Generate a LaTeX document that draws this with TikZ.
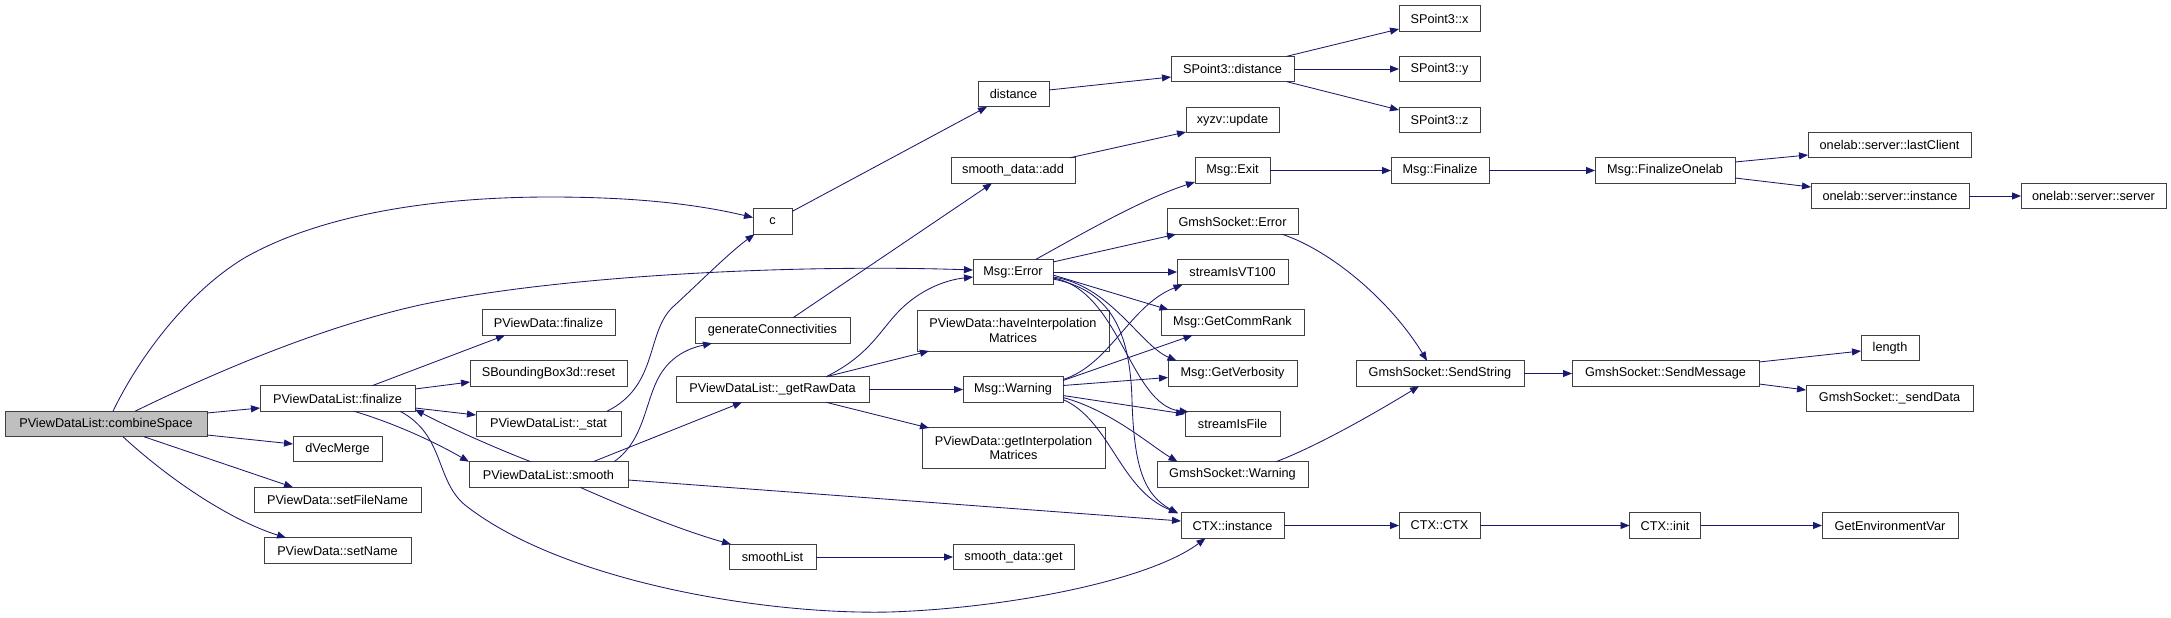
\documentclass[tikz,border=0pt]{standalone}
\usepackage{fontspec}
\setmainfont{Liberation Sans}
\usetikzlibrary{arrows.meta,calc}
\definecolor{edgeblue}{HTML}{191970}
\definecolor{boxline}{HTML}{404040}
\definecolor{rootfill}{HTML}{BFBFBF}
\begin{document}
\begin{tikzpicture}[x=1pt,y=-1pt,
  fn/.style={draw=boxline,line width=0.9pt,fill=white,inner sep=0pt,outer sep=0pt,
    minimum height=25.5pt,align=center,font=\fontsize{12.7}{14.5}\selectfont},
  root/.style={fn,fill=rootfill},
  two/.style={fn,minimum height=41pt},
  call/.style={draw=edgeblue,line width=0.85pt,-{Triangle[length=9pt,width=7pt]}}]
\useasboundingbox (0,0) rectangle (2171,618);
% rank 0
\node[root,minimum width=202pt] (cs) at (106,424) {PViewDataList::combineSpace};
% rank 1
\node[fn,minimum width=155pt] (fin) at (337.5,398.5) {PViewDataList::finalize};
\node[fn,minimum width=89pt] (dvm) at (337.5,449) {dVecMerge};
\node[fn,minimum width=167pt] (sfn) at (337.5,500) {PViewData::setFileName};
\node[fn,minimum width=147pt] (sn) at (337.5,550.5) {PViewData::setName};
% rank 2
\node[fn,minimum width=133pt] (pdf) at (548.5,322.5) {PViewData::finalize};
\node[fn,minimum width=157pt] (sbb) at (548.5,373.5) {SBoundingBox3d::reset};
\node[fn,minimum width=145pt] (st) at (548.5,424) {PViewDataList::\_stat};
\node[fn,minimum width=159pt] (sm) at (548.5,474.5) {PViewDataList::smooth};
% rank 3
\node[fn,minimum width=39pt] (c) at (772.5,221.5) {c};
\node[fn,minimum width=155pt] (gc) at (772.5,330.5) {generateConnectivities};
\node[fn,minimum width=193pt] (grd) at (772.5,389.5) {PViewDataList::\_getRawData};
\node[fn,minimum width=87pt] (sl) at (772.5,557) {smoothList};
% rank 4
\node[fn,minimum width=71pt] (dist) at (1013.5,94) {distance};
\node[fn,minimum width=124pt] (add) at (1013,170.5) {smooth\_data::add};
\node[fn,minimum width=80pt] (err) at (1013,272) {Msg::Error};
\node[two,minimum width=192pt] (hav) at (1013,330.5) {PViewData::haveInterpolation\\Matrices};
\node[fn,minimum width=100pt] (warn) at (1013,389.5) {Msg::Warning};
\node[two,minimum width=183pt] (gim) at (1013.5,448) {PViewData::getInterpolation\\Matrices};
\node[fn,minimum width=121pt] (sdg) at (1013.5,557) {smooth\_data::get};
% rank 5
\node[fn,minimum width=123pt] (spd) at (1232.5,69) {SPoint3::distance};
\node[fn,minimum width=93pt] (xyz) at (1232.5,120) {xyzv::update};
\node[fn,minimum width=75pt] (exit) at (1232.5,170.5) {Msg::Exit};
\node[fn,minimum width=131pt] (gse) at (1232.5,221.5) {GmshSocket::Error};
\node[fn,minimum width=111pt] (vt) at (1232.5,272) {streamIsVT100};
\node[fn,minimum width=143pt] (gcr) at (1232.5,322.5) {Msg::GetCommRank};
\node[fn,minimum width=129pt] (gv) at (1232.5,373.5) {Msg::GetVerbosity};
\node[fn,minimum width=95pt] (sif) at (1232.5,424) {streamIsFile};
\node[fn,minimum width=151pt] (gsw) at (1232.5,474.5) {GmshSocket::Warning};
\node[fn,minimum width=103pt] (ctxi) at (1232.5,525.5) {CTX::instance};
% rank 6
\node[fn,minimum width=81pt] (spx) at (1439.5,18.5) {SPoint3::x};
\node[fn,minimum width=81pt] (spy) at (1439.5,69) {SPoint3::y};
\node[fn,minimum width=81pt] (spz) at (1439.5,120) {SPoint3::z};
\node[fn,minimum width=98pt] (mfin) at (1440,170.5) {Msg::Finalize};
\node[fn,minimum width=168pt] (ss) at (1440,373.5) {GmshSocket::SendString};
\node[fn,minimum width=81pt] (ctx) at (1439.5,525.5) {CTX::CTX};
% rank 7
\node[fn,minimum width=140pt] (fo) at (1665,170.5) {Msg::FinalizeOnelab};
\node[fn,minimum width=187pt] (smsg) at (1665.5,373.5) {GmshSocket::SendMessage};
\node[fn,minimum width=71pt] (init) at (1665,525.5) {CTX::init};
% rank 8
\node[fn,minimum width=163pt] (lc) at (1889.5,145) {onelab::server::lastClient};
\node[fn,minimum width=158pt] (oi) at (1890,196) {onelab::server::instance};
\node[fn,minimum width=58pt] (len) at (1890,348) {length};
\node[fn,minimum width=167pt] (sd) at (1889.5,398.5) {GmshSocket::\_sendData};
\node[fn,minimum width=136pt] (gev) at (1890,525.5) {GetEnvironmentVar};
% rank 9
\node[fn,minimum width=145pt] (srv) at (2093.5,196) {onelab::server::server};

% edges from combineSpace
\draw[call] ($(cs)+(7,-12.75)$) .. controls (140,355) and (190,290) .. (246,257)
  .. controls (330,210) and (450,197) .. (550,197) .. controls (640,197) and (700,205) .. ($(c)+(-19.5,-4)$);
\draw[call] ($(cs)+(29,-12.75)$) .. controls (230,365) and (330,325) .. (420,305)
  .. controls (560,275) and (800,264) .. ($(err)+(-40,-2)$);
\draw[call] ($(cs)+(101,-11)$) -- ($(fin)+(-77.5,9.5)$);
\draw[call] ($(cs)+(101,11)$) -- ($(dvm)+(-44.5,-5)$);
\draw[call] ($(cs)+(38,12.75)$) -- ($(sfn)+(-44.5,-12.75)$);
\draw[call] ($(cs)+(17,12.75)$) .. controls (170,480) and (230,520) .. ($(sn)+(-51.5,-12.75)$);
% finalize
\draw[call] ($(fin)+(34.5,-12.75)$) -- ($(pdf)+(-43.5,12.75)$);
\draw[call] ($(fin)+(77.5,-9.5)$) -- ($(sbb)+(-78.5,8.5)$);
\draw[call] ($(fin)+(77.5,9.5)$) -- ($(st)+(-72.5,-9)$);
\draw[call] ($(fin)+(16.5,12.75)$) .. controls (400,425) and (440,445) .. ($(sm)+(-79.5,-12.75)$);
\draw[call] ($(fin)+(62.5,12.75)$) .. controls (445,435) and (435,480) .. (465,505)
  .. controls (560,580) and (760,615) .. (890,612) .. controls (1010,608) and (1150,580) .. ($(ctxi)+(-27,12.75)$);
% smooth and _stat
\draw[call] ($(sm)+(-17.5,-12.75)$) .. controls (500,450) and (450,428) .. ($(fin)+(77.5,11)$);
\draw[call] ($(st)+(58.5,-12.75)$) .. controls (660,385) and (645,330) .. (675,305)
  .. controls (700,282) and (730,252) .. ($(c)+(-18,12.75)$);
\draw[call] ($(sm)+(65.5,-12.75)$) .. controls (645,440) and (645,400) .. (660,375)
  .. controls (672,355) and (690,348) .. ($(gc)+(-60.5,12.75)$);
\draw[call] ($(sm)+(44.5,-12.75)$) -- ($(grd)+(-30.5,12.75)$);
\draw[call] ($(sm)+(31.5,12.75)$) .. controls (620,505) and (680,530) .. ($(sl)+(-41.5,-12.75)$);
\draw[call] ($(sm)+(79.5,5.5)$) -- ($(ctxi)+(-51.5,-4.5)$);
% rank 3
\draw[call] ($(gc)+(20.5,-12.75)$) -- ($(add)+(-21,12.75)$);
\draw[call] ($(grd)+(53.5,-12.75)$) .. controls (870,355) and (880,330) .. (900,310)
  .. controls (920,290) and (945,280) .. ($(err)+(-40,5)$);
\draw[call] ($(grd)+(53.5,-12.75)$) -- ($(hav)+(-84,20.5)$);
\draw[call] (grd.east) -- (warn.west);
\draw[call] ($(grd)+(53.5,12.75)$) -- ($(gim)+(-84.5,-20)$);
\draw[call] (sl.east) -- (sdg.west);
\draw[call] ($(c)+(19.5,-10)$) -- ($(dist)+(-26.5,12.75)$);
% rank 4
\draw[call] ($(dist)+(35.5,-4)$) -- ($(spd)+(-61.5,8)$);
\draw[call] ($(add)+(57,-12.75)$) -- ($(xyz)+(-46.5,12)$);
\draw[call] ($(err)+(23,-12.75)$) .. controls (1080,235) and (1140,200) .. ($(exit)+(-37.5,11.5)$);
\draw[call] ($(err)+(40,-10)$) -- ($(gse)+(-56.5,12.75)$);
\draw[call] (err.east) -- (vt.west);
\draw[call] ($(err)+(40,3)$) -- ($(gcr)+(-64,-12.75)$);
\draw[call] ($(err)+(40,5)$) .. controls (1110,285) and (1140,345) .. ($(gv)+(-56,-12.75)$);
\draw[call] ($(err)+(40,6)$) .. controls (1120,290) and (1130,405) .. ($(sif)+(-44,-12)$);
\draw[call] ($(err)+(40,7)$) .. controls (1110,290) and (1130,330) .. (1132,400)
  .. controls (1134,470) and (1145,495) .. ($(ctxi)+(-54.5,-12)$);
\draw[call] ($(warn)+(50,-10)$) .. controls (1110,365) and (1130,305) .. ($(vt)+(-50,12.75)$);
\draw[call] ($(warn)+(50,-9)$) -- ($(gcr)+(-40,12.75)$);
\draw[call] ($(warn)+(50,-4)$) -- ($(gv)+(-64.5,4)$);
\draw[call] ($(warn)+(50,6)$) -- ($(sif)+(-47.5,-10)$);
\draw[call] ($(warn)+(50,8)$) .. controls (1110,410) and (1150,445) .. ($(gsw)+(-55,-12.75)$);
\draw[call] ($(warn)+(50,10)$) .. controls (1110,420) and (1120,490) .. ($(ctxi)+(-54.5,-12.5)$);
% rank 5 onwards
\draw[call] ($(spd)+(54.5,-12.75)$) -- ($(spx)+(-40.5,10.5)$);
\draw[call] (spd.east) -- (spy.west);
\draw[call] ($(spd)+(54.5,12.75)$) -- ($(spz)+(-40.5,-10)$);
\draw[call] (exit.east) -- (mfin.west);
\draw[call] (mfin.east) -- (fo.west);
\draw[call] ($(fo)+(70,-8.5)$) -- ($(lc)+(-81.5,10)$);
\draw[call] ($(fo)+(70,7.5)$) -- ($(oi)+(-79,-9)$);
\draw[call] (oi.east) -- (srv.west);
\draw[call] ($(gse)+(49.5,12.75)$) .. controls (1330,250) and (1390,300) .. ($(ss)+(-13,-12.75)$);
\draw[call] ($(gsw)+(43.5,-12.75)$) .. controls (1320,445) and (1380,410) .. ($(ss)+(-21,12.75)$);
\draw[call] (ss.east) -- (smsg.west);
\draw[call] ($(smsg)+(93.5,-11.5)$) -- ($(len)+(-29,3)$);
\draw[call] ($(smsg)+(93.5,10.5)$) -- ($(sd)+(-83.5,-8.5)$);
\draw[call] (ctxi.east) -- (ctx.west);
\draw[call] (ctx.east) -- (init.west);
\draw[call] (init.east) -- (gev.west);
\end{tikzpicture}
\end{document}
